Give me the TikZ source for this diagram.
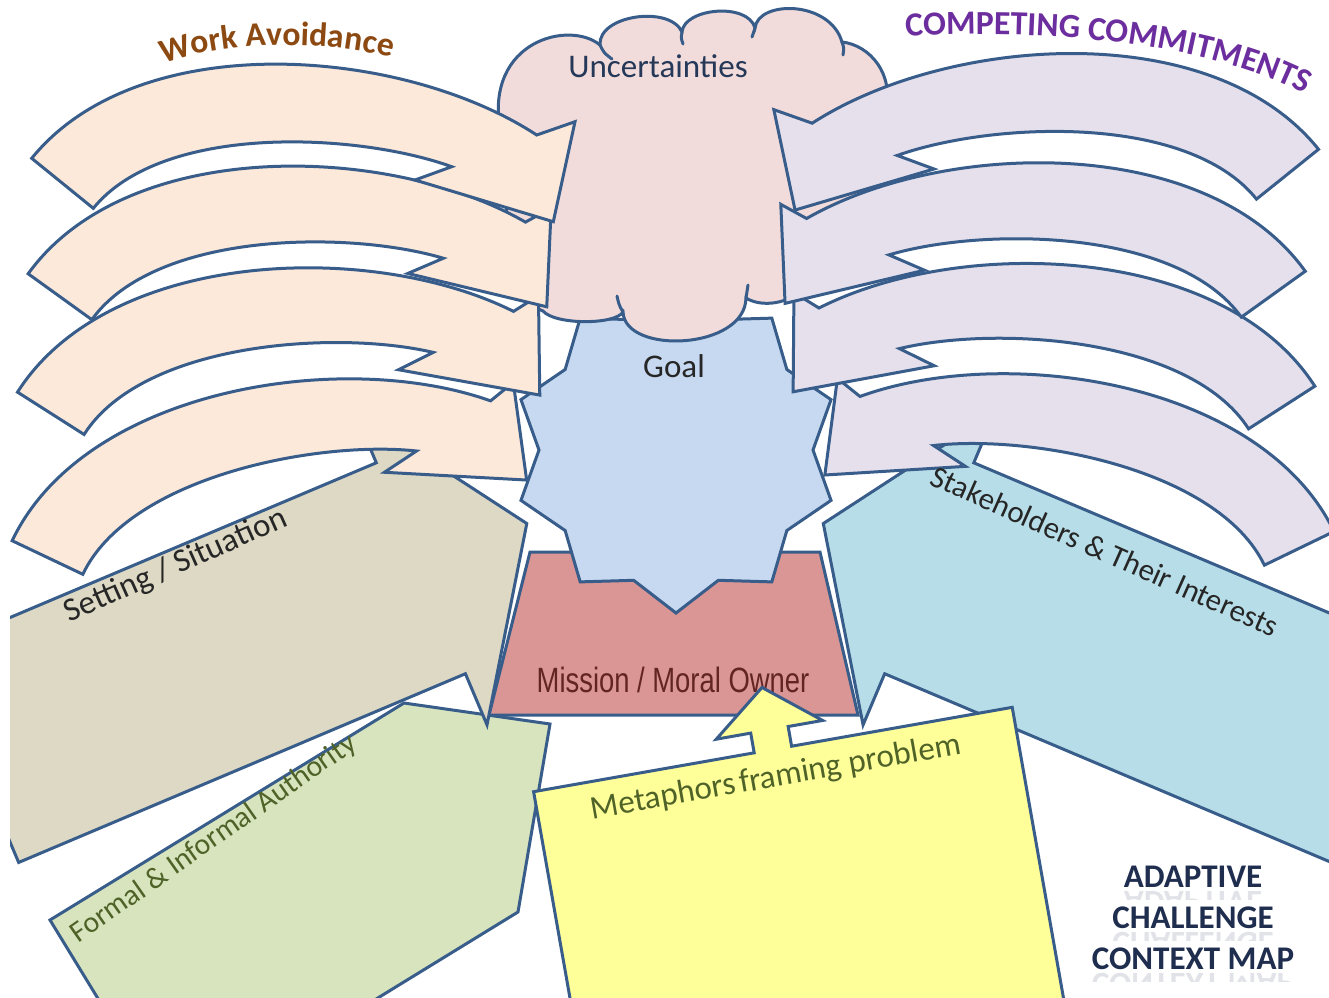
\documentclass[tikz,border=0pt]{standalone}
\usepackage{fontspec}
\setmainfont{Carlito}
\newfontfamily\narrowfont[FakeStretch=0.78]{Liberation Sans}
\usetikzlibrary{decorations.text}

% fills and outline
\definecolor{cLine}{RGB}{56,93,138}
\definecolor{cPeach}{RGB}{253,233,217}
\definecolor{cLav}{RGB}{229,224,236}
\definecolor{cCloud}{RGB}{242,220,219}
\definecolor{cGoal}{RGB}{198,217,241}
\definecolor{cMission}{RGB}{217,150,148}
\definecolor{cSetting}{RGB}{221,217,196}
\definecolor{cAuth}{RGB}{215,228,189}
\definecolor{cStake}{RGB}{183,222,232}
\definecolor{cMeta}{RGB}{255,255,153}
% text colours
\definecolor{tDark}{RGB}{38,38,38}
\definecolor{tSlate}{RGB}{37,56,88}
\definecolor{tOlive}{RGB}{79,98,40}
\definecolor{tRed}{RGB}{99,37,35}
\definecolor{tBrown}{RGB}{140,74,18}
\definecolor{tPurple}{RGB}{108,46,158}
\definecolor{tNavy}{RGB}{31,45,78}

\tikzset{
  outline/.style={draw=cLine, line width=0.3mm, line join=miter},
  peachshape/.style={outline, fill=cPeach},
  lavshape/.style={outline, fill=cLav},
  cloudshape/.style={outline, fill=cCloud},
  cloudtick/.style={draw=cLine, line width=0.3mm, line cap=round},
  goalshape/.style={outline, fill=cGoal},
  missionshape/.style={outline, fill=cMission},
  settingshape/.style={outline, fill=cSetting},
  authshape/.style={outline, fill=cAuth},
  stakeshape/.style={outline, fill=cStake},
  metashape/.style={outline, fill=cMeta},
  lbl/.style={inner sep=0pt, font=\fontsize{9.4}{11}\selectfont},
  maptitle/.style={inner sep=0pt, anchor=base, text=tNavy, font=\bfseries\fontsize{9.4}{11}\selectfont},
}

% curved band arrow, tail centred on the origin, head to the right;
% #1,#2 = outer barb of the head
\newcommand{\bentarrow}[2]{(-30.8,-25) .. controls (76.3,-157.1) and (339.8,-136.3) .. (474.2,-48.3)
  -- (#1,#2) -- (490.8,38.4) -- (352.5,-3.3) -- (389.2,-16.6)
  .. controls (295.2,-50.6) and (100.1,-60.5) .. (30.8,25) -- cycle}

\begin{document}
\begin{tikzpicture}[x=0.1mm, y=-0.1mm]
\useasboundingbox (0,0) rectangle (1329,997);
\fill[white] (0,0) rectangle (1329,997);
\clip (0,0) rectangle (1329,997);

% ---- mission / moral owner
\draw[missionshape] (530,552) -- (820,552) -- (858,715) -- (489,715) -- cycle;
\node[inner sep=0pt, anchor=base, text=tRed, font={\narrowfont\fontsize{10}{12}\selectfont}] (mission) at (673,692) {Mission / Moral Owner};

% ---- goal: ten-point star
\draw[goalshape] (813,450)
  \foreach \a in {0,36,...,288} { -- ({676+163*cos(\a+18)},{450+163*sin(\a+18)}) -- ({676+137*cos(\a+36)},{450+137*sin(\a+36)}) }
  -- ({676+163*cos(342)},{450+163*sin(342)}) -- cycle;

% ---- uncertainties: cloud
\draw[cloudshape] (500,130) .. controls (485,40) and (570,20) .. (600,45)
  .. controls (598,15) and (670,5) .. (682,32)
  .. controls (684,8) and (748,2) .. (755,28)
  .. controls (758,0) and (830,0) .. (842,42)
  .. controls (870,45) and (895,75) .. (885,110)
  .. controls (900,180) and (860,260) .. (800,285)
  .. controls (800,300) and (765,310) .. (746,298)
  .. controls (745,350) and (625,355) .. (623,312)
  .. controls (615,325) and (555,325) .. (543,311)
  .. controls (510,300) and (505,200) .. cycle;
\draw[cloudtick] (600,45) .. controls (604,53) .. (612,59);
\draw[cloudtick] (682,32) .. controls (681,38) .. (683,44);
\draw[cloudtick] (755,28) .. controls (754,32) .. (752,37);
\draw[cloudtick] (842,42) .. controls (844,48) .. (843,55);
\draw[cloudtick] (623,312) .. controls (619,305) .. (617,296);
\draw[cloudtick] (746,298) .. controls (747,292) .. (748,285);

% ---- formal & informal authority
\draw[authshape] (50,920) -- (404,703) -- (550,724) -- (518,912) -- (174,1123) -- cycle;

% ---- setting / situation
\begin{scope}
  \clip (10,0) rectangle (1329,997);
  \draw[settingshape, shift={(526.8,523.5)}, rotate=22.9]
    (0,0) -- (-115,-170) -- (-115,-114.5) -- (-600,-114.5) -- (-600,114.5) -- (-115,114.5) -- (-115,170) -- cycle;
\end{scope}

% ---- stakeholders
\draw[stakeshape, shift={(823.3,523.5)}, xscale=-1, rotate=22.9]
  (0,0) -- (-115,-170) -- (-115,-114.5) -- (-700,-114.5) -- (-700,114.5) -- (-115,114.5) -- (-115,170) -- cycle;

% ---- metaphors box with its up arrow
\draw[metashape, shift={(533.6,791.7)}, rotate=10]
  (0,0) -- (224,0) -- (224,-20) -- (189,-20) -- (243,-63) -- (297,-20) -- (262,-20) -- (262,0)
  -- (486,0) -- (486,320) -- (0,320) -- cycle;

% ---- work avoidance arrows (bottom one first)
\draw[peachshape, shift={(47.5,557.5)}, rotate=13.66, scale=0.986] \bentarrow{501}{-61};
\draw[peachshape, shift={(50.8,413.3)}, rotate=6.61, scale=0.994] \bentarrow{501}{-61};
\draw[peachshape, shift={(60,296.7)}, rotate=3.29, scale=0.989] \bentarrow{501}{-61};
\draw[peachshape, shift={(62.5,183.3)}] \bentarrow{512.5}{-61.6};

% ---- competing commitments arrows (mirrored)
\draw[lavshape, shift={(1299.2,548.3)}, xscale=-1, rotate=13.26, scale=0.975] \bentarrow{501}{-61};
\draw[lavshape, shift={(1281.7,407.5)}, xscale=-1, rotate=6.32, scale=0.993] \bentarrow{501}{-61};
\draw[lavshape, shift={(1273.3,294.2)}, xscale=-1, rotate=3.40, scale=0.992] \bentarrow{501}{-61};
\draw[lavshape, shift={(1287.5,174.2)}, xscale=-1, rotate=0.31, scale=1.003] \bentarrow{512.5}{-61.6};

% ---- labels
\node[lbl, anchor=base, text=tSlate] (uncert) at (658,77) {Uncertainties};
\node[lbl, anchor=base, text=tDark] (goal) at (674,377) {Goal};
\node[lbl, text=tDark, rotate=24] (setting) at (176,566) {Setting / Situation};
\node[inner sep=0pt, text=tDark, rotate=-24, font=\fontsize{8.8}{10}\selectfont] (stake) at (1105,551) {Stakeholders \& Their Interests};
\node[inner sep=0pt, text=tOlive, rotate=35, font=\fontsize{8.45}{10}\selectfont] (auth) at (214,839) {Formal \& Informal Authority};
\node[lbl, text=tOlive, rotate=10] (meta) at (776,778) {{\spaceskip=0.12em plus 0.05em Metaphors framing} problem};

% arched headings
\path[decorate, decoration={text along path, text align=center, text color=tBrown,
  text={|\bfseries\fontsize{9.6}{11}\selectfont|Work Avoidance}}]
  (162,64) .. controls (228,40) and (325,40) .. (393,58);
\path[decorate, decoration={text along path, text align=center, text color=tPurple,
  text={|\bfseries\fontsize{9.6}{11}\selectfont|COMPETING COMMITMENTS}}]
  (906,37) .. controls (1050,27) and (1215,45) .. (1305,94);

% map title with a faint reflection under each line
\foreach \t/\yb [count=\i] in {ADAPTIVE/887, CHALLENGE/928, CONTEXT MAP/969} {
  \node[maptitle] (title\i) at (1193,\yb) {\t};
  \begin{scope}
    \clip (1080,\yb+3) rectangle (1310,\yb+12);
    \node[maptitle, yscale=-1, opacity=0.13] at (1193,\yb+4) {\t};
  \end{scope}
}
\end{tikzpicture}
\end{document}
